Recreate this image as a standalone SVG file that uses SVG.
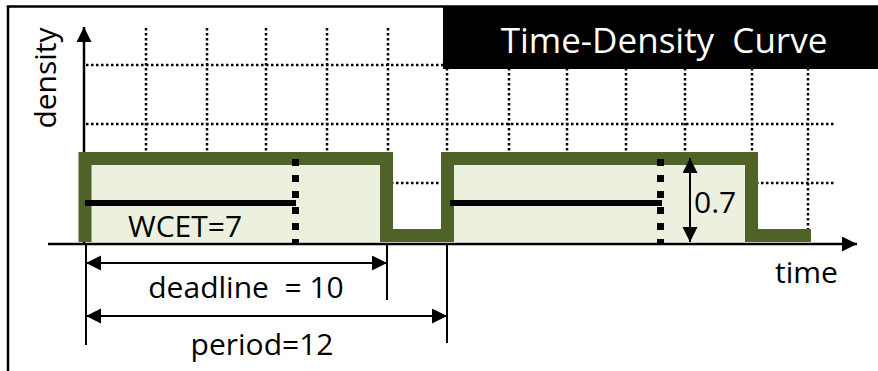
<svg xmlns="http://www.w3.org/2000/svg" width="878" height="371" viewBox="0 0 878 371">
<style>
.txt{font-family:"Open Sans","Noto Sans","Liberation Sans",sans-serif;font-size:30px;fill:#000}
.grid{stroke:#000;stroke-width:2.5;stroke-dasharray:2.5 2.5;fill:none}
.ln{stroke:#000;stroke-width:2.5;fill:none}
.dim{stroke:#000;stroke-width:2;fill:none}
.wcet{stroke:#000;stroke-width:6;fill:none}
.dl{stroke:#000;stroke-width:7;stroke-dasharray:7 9;fill:none}
</style>
<defs>
<marker id="ah" markerUnits="userSpaceOnUse" markerWidth="16" markerHeight="16" refX="15" refY="7.5" orient="auto-start-reverse">
<path d="M0,0 L15,7.5 L0,15 Z" fill="#000"/>
</marker>
</defs>
<rect width="878" height="371" fill="#fff"/>
<g id="frame">
<path d="M8,371 V6.5 H878" stroke="#000" stroke-width="2.5" fill="none"/>
</g>
<g id="grid">
<path class="grid" d="M146,28V243 M207,28V243 M266,28V243 M327,28V243 M388,28V243 M447,28V243 M509,28V243 M567,28V243 M626,28V243 M685,28V243 M752,28V243 M808,28V229"/>
<path class="grid" d="M86,65H835 M86,124H835 M86,183H835"/>
</g>
<g id="title">
<rect x="443" y="7" width="435" height="62" fill="#000"/>
<text class="txt" x="664" y="53" text-anchor="middle" style="fill:#fff;font-size:35px" xml:space="preserve">Time-Density  Curve</text>
</g>
<g id="axes">
<line class="ln" x1="84" y1="244" x2="84" y2="27" marker-end="url(#ah)"/>
<line class="ln" x1="48" y1="244" x2="857" y2="244" marker-end="url(#ah)"/>
<text class="txt" transform="translate(56,78) rotate(-90)" text-anchor="middle">density</text>
<text class="txt" x="775" y="283">time</text>
</g>
<g id="curve">
<path d="M85,242V158.5H386.5V242Z M447.5,242V158.5H751.5V242Z" fill="#EBF1DE"/>
<path d="M85,242V158.5H386.5V235.5H447.5V158.5H751.5V235.5H811" stroke="#4F6228" stroke-width="13" fill="none" stroke-linejoin="miter"/>
</g>
<g id="job1">
<line class="wcet" x1="85" y1="203" x2="296" y2="203"/>
<line class="dl" x1="295.5" y1="159" x2="295.5" y2="243"/>
<text class="txt" x="128" y="237">WCET=7</text>
</g>
<g id="job2">
<line class="wcet" x1="450" y1="203" x2="662" y2="203"/>
<line class="dl" x1="660.5" y1="159" x2="660.5" y2="243"/>
</g>
<g id="connectors">
<line class="dim" x1="690" y1="200" x2="690" y2="158" marker-end="url(#ah)"/>
<line class="dim" x1="690" y1="200" x2="690" y2="242" marker-end="url(#ah)"/>
<line class="dim" x1="86" y1="244" x2="86" y2="345"/>
<line class="dim" x1="387" y1="244" x2="387" y2="300"/>
<line class="dim" x1="447" y1="244" x2="447" y2="343"/>
<line class="dim" x1="86" y1="263" x2="387" y2="263" marker-start="url(#ah)" marker-end="url(#ah)"/>
<line class="dim" x1="86" y1="316" x2="447" y2="316" marker-start="url(#ah)" marker-end="url(#ah)"/>
</g>
<g id="labels">
<text class="txt" x="694" y="213">0.7</text>
<text class="txt" x="246" y="298" text-anchor="middle" xml:space="preserve">deadline  = 10</text>
<text class="txt" x="262" y="355" text-anchor="middle">period=12</text>
</g>
</svg>
